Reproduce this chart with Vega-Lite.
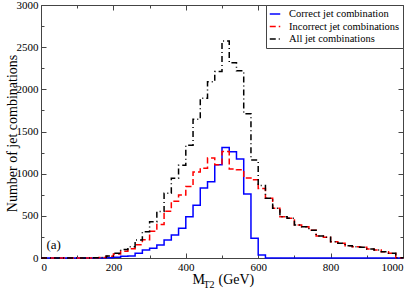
{
  "$schema": "https://vega.github.io/schema/vega-lite/v6.json",
  "width": 362,
  "height": 253,
  "autosize": {"type": "none"},
  "padding": {"left": 41, "top": 5, "right": 11, "bottom": 31},
  "config": {
    "view": {"stroke": "#444", "strokeWidth": 1},
    "font": "Liberation Serif",
    "text": {"font": "Liberation Serif"},
    "axis": {"grid": false, "domain": false, "tickColor": "#444", "tickWidth": 1, "labelFont": "Liberation Serif", "titleFont": "Liberation Serif", "labelColor": "black", "titleColor": "black", "titleFontWeight": "normal", "labelFontSize": 11, "format": "d"},
    "legend": {"orient": "top-right", "offset": 0, "padding": 3, "strokeColor": "#444", "fillColor": "white", "labelFont": "Liberation Serif", "labelFontSize": 10.5, "labelColor": "black", "labelOffset": 8, "symbolType": "stroke", "symbolStrokeWidth": 1.5, "symbolSize": 110, "rowPadding": 0.5, "labelLimit": 200}
  },
  "datasets": {
    "hist": [
      {"mt2": 0, "Correct jet combination": 0, "Incorrect jet combinations": 0, "All jet combinations": 0},
      {"mt2": 20, "Correct jet combination": 0, "Incorrect jet combinations": 0, "All jet combinations": 0},
      {"mt2": 40, "Correct jet combination": 0, "Incorrect jet combinations": 0, "All jet combinations": 0},
      {"mt2": 60, "Correct jet combination": 0, "Incorrect jet combinations": 0, "All jet combinations": 0},
      {"mt2": 80, "Correct jet combination": 0, "Incorrect jet combinations": 0, "All jet combinations": 0},
      {"mt2": 100, "Correct jet combination": 0, "Incorrect jet combinations": 0, "All jet combinations": 0},
      {"mt2": 120, "Correct jet combination": 0, "Incorrect jet combinations": 0, "All jet combinations": 0},
      {"mt2": 140, "Correct jet combination": 0, "Incorrect jet combinations": 2, "All jet combinations": 2},
      {"mt2": 160, "Correct jet combination": 0, "Incorrect jet combinations": 5, "All jet combinations": 5},
      {"mt2": 180, "Correct jet combination": 3, "Incorrect jet combinations": 22, "All jet combinations": 25},
      {"mt2": 200, "Correct jet combination": 8, "Incorrect jet combinations": 47, "All jet combinations": 55},
      {"mt2": 220, "Correct jet combination": 20, "Incorrect jet combinations": 80, "All jet combinations": 100},
      {"mt2": 240, "Correct jet combination": 24, "Incorrect jet combinations": 110, "All jet combinations": 134},
      {"mt2": 260, "Correct jet combination": 55, "Incorrect jet combinations": 158, "All jet combinations": 213},
      {"mt2": 280, "Correct jet combination": 95, "Incorrect jet combinations": 217, "All jet combinations": 312},
      {"mt2": 300, "Correct jet combination": 115, "Incorrect jet combinations": 316, "All jet combinations": 431},
      {"mt2": 320, "Correct jet combination": 154, "Incorrect jet combinations": 396, "All jet combinations": 550},
      {"mt2": 340, "Correct jet combination": 213, "Incorrect jet combinations": 554, "All jet combinations": 767},
      {"mt2": 360, "Correct jet combination": 273, "Incorrect jet combinations": 672, "All jet combinations": 945},
      {"mt2": 380, "Correct jet combination": 352, "Incorrect jet combinations": 748, "All jet combinations": 1100},
      {"mt2": 400, "Correct jet combination": 490, "Incorrect jet combinations": 848, "All jet combinations": 1338},
      {"mt2": 420, "Correct jet combination": 625, "Incorrect jet combinations": 1020, "All jet combinations": 1645},
      {"mt2": 440, "Correct jet combination": 830, "Incorrect jet combinations": 1064, "All jet combinations": 1894},
      {"mt2": 460, "Correct jet combination": 905, "Incorrect jet combinations": 1185, "All jet combinations": 2090},
      {"mt2": 480, "Correct jet combination": 1105, "Incorrect jet combinations": 1105, "All jet combinations": 2210},
      {"mt2": 500, "Correct jet combination": 1310, "Incorrect jet combinations": 1262, "All jet combinations": 2572},
      {"mt2": 520, "Correct jet combination": 1260, "Incorrect jet combinations": 1055, "All jet combinations": 2315},
      {"mt2": 540, "Correct jet combination": 1175, "Incorrect jet combinations": 1045, "All jet combinations": 2220},
      {"mt2": 560, "Correct jet combination": 760, "Incorrect jet combinations": 950, "All jet combinations": 1710},
      {"mt2": 580, "Correct jet combination": 235, "Incorrect jet combinations": 927, "All jet combinations": 1162},
      {"mt2": 600, "Correct jet combination": 35, "Incorrect jet combinations": 825, "All jet combinations": 860},
      {"mt2": 620, "Correct jet combination": 0, "Incorrect jet combinations": 708, "All jet combinations": 708},
      {"mt2": 640, "Correct jet combination": 0, "Incorrect jet combinations": 589, "All jet combinations": 589},
      {"mt2": 660, "Correct jet combination": 0, "Incorrect jet combinations": 490, "All jet combinations": 490},
      {"mt2": 680, "Correct jet combination": 0, "Incorrect jet combinations": 470, "All jet combinations": 470},
      {"mt2": 700, "Correct jet combination": 0, "Incorrect jet combinations": 391, "All jet combinations": 391},
      {"mt2": 720, "Correct jet combination": 0, "Incorrect jet combinations": 371, "All jet combinations": 371},
      {"mt2": 740, "Correct jet combination": 0, "Incorrect jet combinations": 330, "All jet combinations": 330},
      {"mt2": 760, "Correct jet combination": 0, "Incorrect jet combinations": 261, "All jet combinations": 261},
      {"mt2": 780, "Correct jet combination": 0, "Incorrect jet combinations": 245, "All jet combinations": 245},
      {"mt2": 800, "Correct jet combination": 0, "Incorrect jet combinations": 194, "All jet combinations": 194},
      {"mt2": 820, "Correct jet combination": 0, "Incorrect jet combinations": 174, "All jet combinations": 174},
      {"mt2": 840, "Correct jet combination": 0, "Incorrect jet combinations": 146, "All jet combinations": 146},
      {"mt2": 860, "Correct jet combination": 0, "Incorrect jet combinations": 134, "All jet combinations": 134},
      {"mt2": 880, "Correct jet combination": 0, "Incorrect jet combinations": 127, "All jet combinations": 127},
      {"mt2": 900, "Correct jet combination": 0, "Incorrect jet combinations": 107, "All jet combinations": 107},
      {"mt2": 920, "Correct jet combination": 0, "Incorrect jet combinations": 95, "All jet combinations": 95},
      {"mt2": 940, "Correct jet combination": 0, "Incorrect jet combinations": 75, "All jet combinations": 75},
      {"mt2": 960, "Correct jet combination": 0, "Incorrect jet combinations": 55, "All jet combinations": 55},
      {"mt2": 980, "Correct jet combination": 0, "Incorrect jet combinations": 3, "All jet combinations": 3},
      {"mt2": 1000, "Correct jet combination": 0, "Incorrect jet combinations": 0, "All jet combinations": 0}
    ],
    "note": [{"mt2": 15, "count": 150, "label": "(a)"}]
  },
  "layer": [
    {
      "data": {"name": "hist"},
      "transform": [
        {"fold": ["Correct jet combination", "Incorrect jet combinations", "All jet combinations"], "as": ["series", "count"]},
        {"filter": {"field": "series", "equal": "Correct jet combination"}}
      ],
      "mark": {"type": "line", "interpolate": "step-after", "strokeWidth": 1.5},
      "encoding": {
        "x": {"field": "mt2", "type": "quantitative", "scale": {"domain": [0, 1000], "nice": false},
          "axis": {"orient": "bottom", "values": [0, 200, 400, 600, 800, 1000], "tickSize": -5, "labelPadding": 8, "title": "M", "titleFontSize": 14, "titleAlign": "left", "titleAnchor": "start", "titleX": 151, "titleY": 25, "titleBaseline": "alphabetic"}},
        "y": {"field": "count", "type": "quantitative", "scale": {"domain": [0, 3000], "nice": false},
          "axis": {"orient": "left", "values": [0, 500, 1000, 1500, 2000, 2500, 3000], "tickSize": -5, "labelPadding": 8, "title": "Number of jet combinations", "titleFontSize": 14, "titleX": -29, "titleY": 128, "titleBaseline": "middle", "titleAngle": -90}},
        "color": {"field": "series", "type": "nominal", "scale": {"domain": ["Correct jet combination", "Incorrect jet combinations", "All jet combinations"], "range": ["#0000ff", "#ff0000", "#000000"]}, "legend": {"title": null}},
        "strokeDash": {"field": "series", "type": "nominal", "scale": {"domain": ["Correct jet combination", "Incorrect jet combinations", "All jet combinations"], "range": [[1, 0], [6, 3], [6, 3, 1, 3]]}, "legend": {"title": null}}
      }
    },
    {
      "data": {"name": "hist"},
      "transform": [
        {"fold": ["Correct jet combination", "Incorrect jet combinations", "All jet combinations"], "as": ["series", "count"]},
        {"filter": {"field": "series", "equal": "Incorrect jet combinations"}}
      ],
      "mark": {"type": "line", "interpolate": "step-after", "strokeWidth": 1.5},
      "encoding": {
        "x": {"field": "mt2", "type": "quantitative", "axis": {"orient": "top", "values": [0, 200, 400, 600, 800, 1000], "tickSize": -5, "labels": false, "title": null}},
        "y": {"field": "count", "type": "quantitative", "axis": {"orient": "right", "values": [0, 500, 1000, 1500, 2000, 2500, 3000], "tickSize": -5, "labels": false, "title": null}},
        "color": {"field": "series", "type": "nominal", "legend": {"title": null}},
        "strokeDash": {"field": "series", "type": "nominal", "legend": {"title": null}}
      }
    },
    {
      "data": {"name": "hist"},
      "transform": [
        {"fold": ["Correct jet combination", "Incorrect jet combinations", "All jet combinations"], "as": ["series", "count"]},
        {"filter": {"field": "series", "equal": "All jet combinations"}}
      ],
      "mark": {"type": "line", "interpolate": "step-after", "strokeWidth": 1.5},
      "encoding": {
        "x": {"field": "mt2", "type": "quantitative", "axis": {"orient": "bottom", "values": [100, 300, 500, 700, 900], "tickSize": -3, "labels": false, "title": "T2", "titleFontSize": 10, "titleAlign": "left", "titleAnchor": "start", "titleX": 162, "titleY": 29, "titleBaseline": "alphabetic"}},
        "y": {"field": "count", "type": "quantitative", "axis": {"orient": "left", "values": [250, 750, 1250, 1750, 2250, 2750], "tickSize": -3, "labels": false, "title": null}},
        "color": {"field": "series", "type": "nominal", "legend": {"title": null}},
        "strokeDash": {"field": "series", "type": "nominal", "legend": {"title": null}}
      }
    },
    {
      "data": {"name": "note"},
      "mark": {"type": "text", "align": "left", "baseline": "middle", "fontSize": 13, "font": "Liberation Serif"},
      "encoding": {
        "x": {"field": "mt2", "type": "quantitative", "axis": {"orient": "top", "values": [100, 300, 500, 700, 900], "tickSize": -3, "labels": false, "title": null}},
        "y": {"field": "count", "type": "quantitative", "axis": {"orient": "right", "values": [250, 750, 1250, 1750, 2250, 2750], "tickSize": -3, "labels": false, "title": null}},
        "text": {"field": "label"}
      }
    },
    {
      "data": {"name": "note"},
      "mark": {"type": "point", "opacity": 0},
      "encoding": {
        "x": {"field": "mt2", "type": "quantitative", "axis": {"orient": "bottom", "ticks": false, "labels": false, "title": "(GeV)", "titleFontSize": 14, "titleAlign": "left", "titleAnchor": "start", "titleX": 177, "titleY": 25, "titleBaseline": "alphabetic"}},
        "y": {"field": "count", "type": "quantitative", "axis": null}
      }
    }
  ],
  "resolve": {"axis": {"x": "independent", "y": "independent"}}
}
